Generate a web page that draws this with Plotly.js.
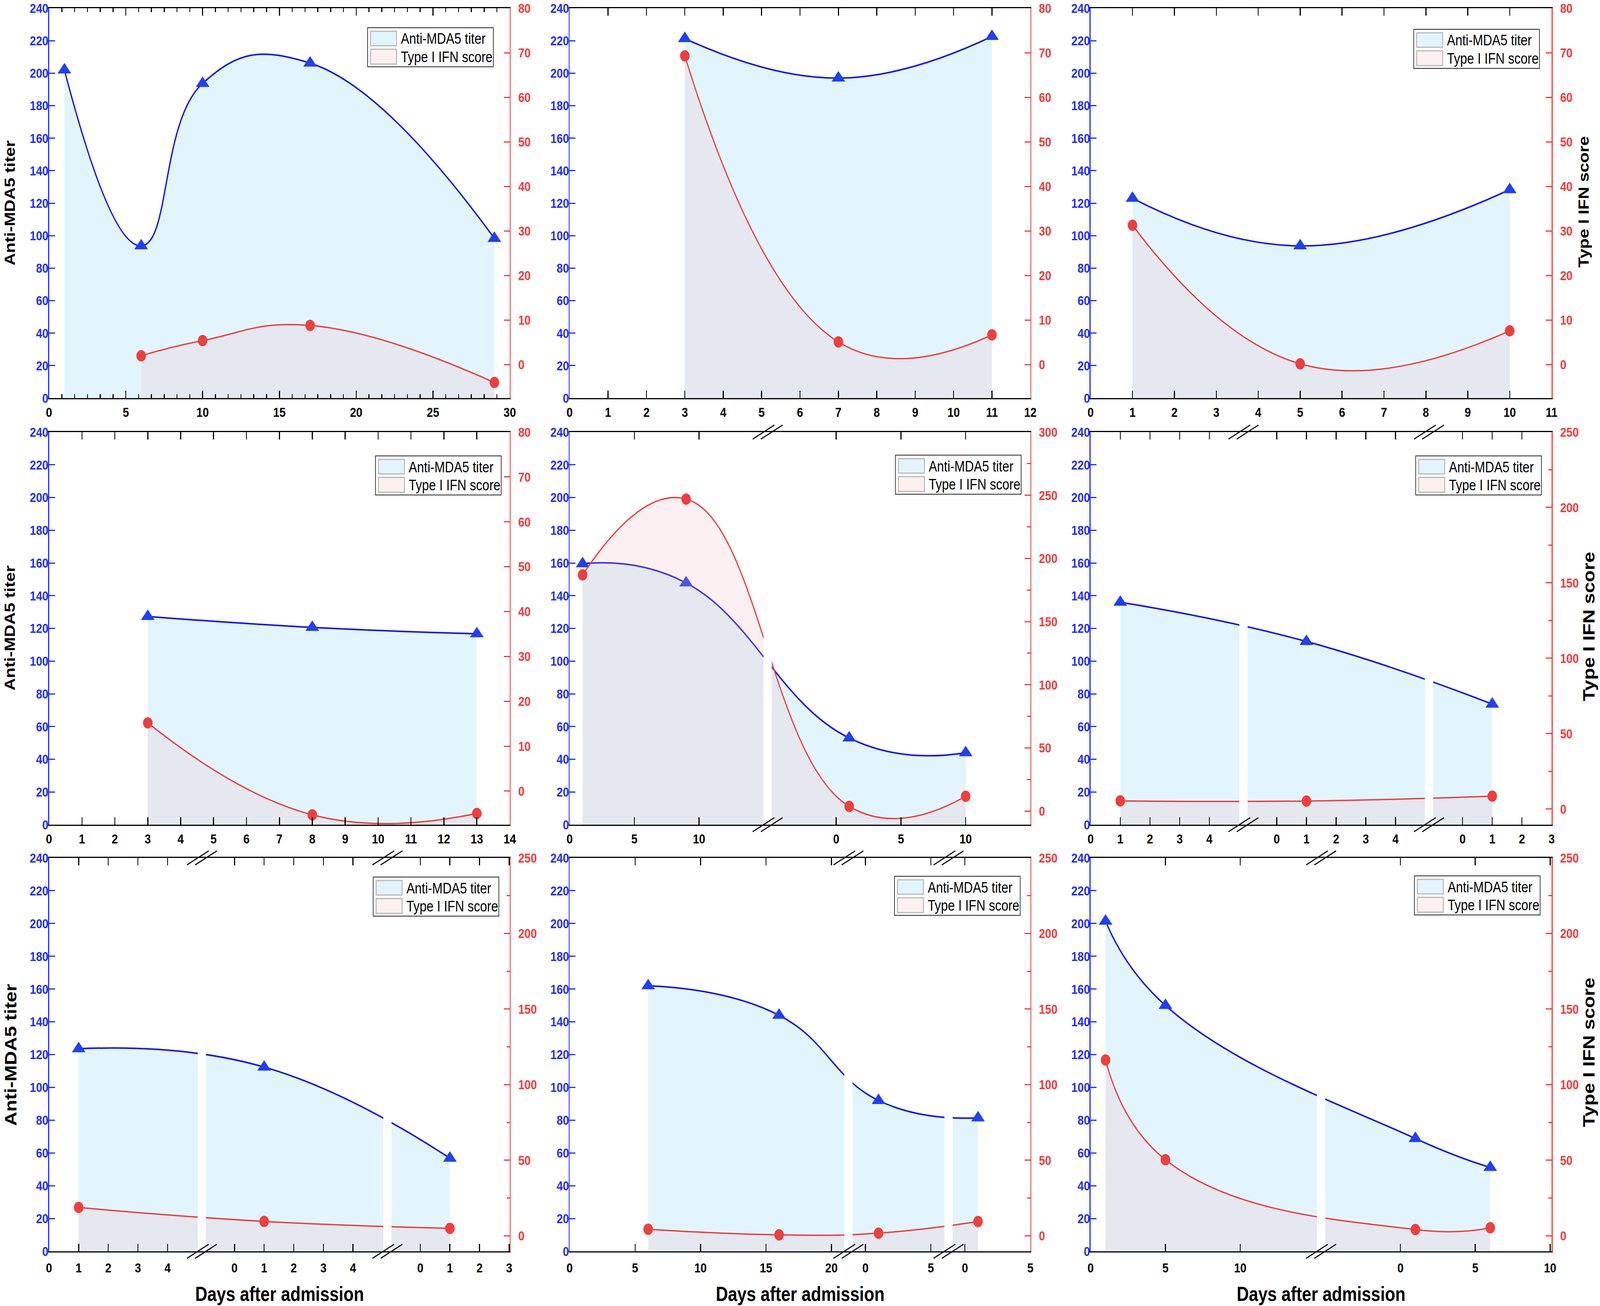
<!DOCTYPE html>
<html>
<head>
<meta charset="utf-8">
<script src="https://cdn.plot.ly/plotly-3.0.1.min.js"></script>
<style>html,body{margin:0;padding:0;background:#fff;overflow:hidden;}</style>
</head>
<body>
<div id="chart" style="width:4862px;height:3343px;"></div>
<script>
// ================= DATA =================
// Panel 1
const p1Days = [1, 6, 10, 17, 29];
const p1Titer = [202, 93.7, 193.7, 206.2, 98.3];
const p1IfnDays = [6, 10, 17, 29];
const p1Ifn = [2.0, 5.4, 8.8, -4.0];
// Panel 2
const p2Days = [3, 7, 11];
const p2Titer = [221.3, 197, 222.6];
const p2Ifn = [69.3, 5.1, 6.7];
// Panel 3
const p3Days = [1, 5, 10];
const p3Titer = [123, 93.7, 128.3];
const p3Ifn = [31.3, 0.2, 7.6];
// Panel 4
const p4Days = [3, 8, 13];
const p4Titer = [127.3, 120.6, 116.7];
const p4Ifn = [15.2, -5.3, -5.0];
// Panel 5 (broken axis: segment index per point)
const p5Days = [1, 9, 1, 10];
const p5Segment = [0, 0, 1, 1];
const p5Titer = [159.5, 147.8, 53, 44];
const p5Ifn = [187, 247, 3.7, 11.7];
const p5TickLabels = [[0, 5, 10], [0, 5, 10]];
// Panel 6
const p6Days = [1, 1, 1];
const p6Segment = [0, 1, 2];
const p6Titer = [136, 112, 73.7];
const p6Ifn = [5.4, 5.3, 8.5];
const p6TickLabels = [[0, 1, 2, 3, 4], [0, 1, 2, 3, 4], [0, 1, 2, 3]];
// Panel 7
const p7Days = [1, 1, 1];
const p7Segment = [0, 1, 2];
const p7Titer = [123.6, 112.4, 56.8];
const p7Ifn = [18.7, 9.5, 4.9];
const p7TickLabels = [[0, 1, 2, 3, 4], [0, 1, 2, 3, 4], [0, 1, 2, 3]];
// Panel 8
const p8Days = [6, 16, 1, 1];
const p8Segment = [0, 0, 1, 2];
const p8Titer = [162, 144, 92, 81.4];
const p8Ifn = [4.3, 0.6, 1.75, 9.4];
const p8TickLabels = [[0, 5, 10, 15, 20], [0, 5], [0, 5]];
// Panel 9
const p9Days = [1, 5, 1, 6];
const p9Segment = [0, 0, 1, 1];
const p9Titer = [201.4, 150, 68.8, 51.2];
const p9Ifn = [116.3, 50.3, 4.1, 5.3];
const p9TickLabels = [[0, 5, 10], [0, 5, 10]];

const legendNames = ['Anti-MDA5 titer', 'Type I IFN score'];
const leftTitle = 'Anti-MDA5 titer';
const rightTitle = 'Type I IFN score';
const bottomTitle = 'Days after admission';

// ================= STYLE / LAYOUT =================
const W = 4862, H = 3343;
const FONT = 'Liberation Sans, Arial, Helvetica, sans-serif';
const BLUE_AXIS = '#1F2EFF', BLUE_LINE = '#1616F2', BLUE_MARK = '#2040F2', BLUE_FILL = '#E3F5FC';
const RED_AXIS = '#F43A3A', RED_LINE = '#F23A3A', RED_MARK = '#EF3E3E', RED_FILL = 'rgba(245,182,196,0.2)';
const SMOOTH = 1.3;

const colPx = [[149, 1549], [1731, 3131], [3314, 4715]];
const rowPx = [[21, 1019], [1106, 2111], [2196, 3203]];
const px2x = p => p / W;
const px2y = p => 1 - p / H;

const panels = [
  {days: p1Days, titer: p1Titer, ifnDays: p1IfnDays, ifn: p1Ifn, xRange: [0, 30], xDtick: 5, xMinor: 5 / 6,
   right: [-7.5, 80], rDtick: 10, legend: [968, 50]},
  {days: p2Days, titer: p2Titer, ifn: p2Ifn, xRange: [0, 12], xDtick: 1,
   right: [-7.5, 80], rDtick: 10, legend: null},
  {days: p3Days, titer: p3Titer, ifn: p3Ifn, xRange: [0, 11], xDtick: 1,
   right: [-7.5, 80], rDtick: 10, legend: [982, 54]},
  {days: p4Days, titer: p4Titer, ifn: p4Ifn, xRange: [0, 14], xDtick: 1,
   right: [-7.5, 80], rDtick: 10, legend: [992, 61]},
  {days: p5Days, seg: p5Segment, titer: p5Titer, ifn: p5Ifn, xRange: [0, 35.6], offsets: [0, 20.6],
   tickLabels: p5TickLabels, breaks: [15.3], right: [-10.8, 300], rDtick: 50, rMinor: 25, legend: [990, 59]},
  {days: p6Days, seg: p6Segment, titer: p6Titer, ifn: p6Ifn, xRange: [0, 15.53], offsets: [0, 6.27, 12.53],
   tickLabels: p6TickLabels, breaks: [5.15, 11.4], right: [-10.4, 250], rDtick: 50, rMinor: 25, legend: [988, 61]},
  {days: p7Days, seg: p7Segment, titer: p7Titer, ifn: p7Ifn, xRange: [0, 15.55], offsets: [0, 6.26, 12.53],
   tickLabels: p7TickLabels, breaks: [5.16, 11.42], right: [-10.3, 250], rDtick: 50, rMinor: 25, legend: [985, 49]},
  {days: p8Days, seg: p8Segment, titer: p8Titer, ifn: p8Ifn, xRange: [0, 35.2], offsets: [0, 22.6, 30.2],
   tickLabels: p8TickLabels, breaks: [21.3, 28.95], right: [-10.3, 250], rDtick: 50, rMinor: 25, legend: [987, 47]},
  {days: p9Days, seg: p9Segment, titer: p9Titer, ifn: p9Ifn, xRange: [0, 30.8], offsets: [0, 20.7],
   tickLabels: p9TickLabels, breaks: [15.4], right: [-10.3, 250], rDtick: 50, rMinor: 25, legend: [984, 46]}
];

const traces = [];
const layout = {
  width: W, height: H, autosize: false,
  margin: {l: 0, r: 0, t: 0, b: 0, pad: 0},
  paper_bgcolor: '#ffffff', plot_bgcolor: '#ffffff',
  showlegend: false,
  font: {family: FONT},
  shapes: [], annotations: []
};

function tickFont(color, size) {
  return {family: FONT, size: size || 34, color: color, weight: 'bold'};
}

panels.forEach((p, k) => {
  const i = k + 1;
  const c = k % 3, r = Math.floor(k / 3);
  const xId = i === 1 ? 'x' : 'x' + i;
  const xKey = i === 1 ? 'xaxis' : 'xaxis' + i;
  const yL = 2 * i - 1, yR = 2 * i;
  const yLId = yL === 1 ? 'y' : 'y' + yL;
  const yLKey = yL === 1 ? 'yaxis' : 'yaxis' + yL;
  const yRId = 'y' + yR, yRKey = 'yaxis' + yR;

  const toX = (d, s) => (p.offsets ? d.map((v, j) => p.offsets[s[j]] + v) : d);
  const xb = toX(p.days, p.seg);
  const xr = toX(p.ifnDays || p.days, p.ifnSeg || p.seg);

  // Anti-MDA5 titer (left axis)
  traces.push({
    type: 'scatter', x: xb, y: p.titer, xaxis: xId, yaxis: yLId,
    mode: 'lines+markers', fill: 'tozeroy', fillcolor: BLUE_FILL,
    line: {shape: 'spline', smoothing: SMOOTH, color: BLUE_LINE, width: 4},
    marker: {symbol: 'triangle-up', size: 36, color: BLUE_MARK, line: {width: 0}},
    showlegend: false, hoverinfo: 'skip'
  });
  // baseline at the bottom of the right axis (for the IFN area fill)
  traces.push({
    type: 'scatter', x: [xr[0], xr[xr.length - 1]], y: [p.right[0], p.right[0]],
    xaxis: xId, yaxis: yRId, mode: 'lines',
    line: {width: 0, color: 'rgba(0,0,0,0)'}, showlegend: false, hoverinfo: 'skip'
  });
  // Type I IFN score (right axis)
  traces.push({
    type: 'scatter', x: xr, y: p.ifn, xaxis: xId, yaxis: yRId,
    mode: 'lines+markers', fill: 'tonexty', fillcolor: RED_FILL,
    line: {shape: 'spline', smoothing: SMOOTH, color: RED_LINE, width: 3.5},
    marker: {symbol: 'circle', size: 29, color: RED_MARK, line: {width: 0}},
    showlegend: false, hoverinfo: 'skip'
  });

  const xDomain = [px2x(colPx[c][0]), px2x(colPx[c][1])];
  const yDomain = [px2y(rowPx[r][1]), px2y(rowPx[r][0])];

  const xa = {
    domain: xDomain, range: p.xRange, anchor: yLId,
    showline: true, linecolor: '#000000', linewidth: 3, mirror: 'ticks',
    ticks: 'inside', ticklen: 19, tickwidth: 3, tickcolor: '#000000',
    tickfont: tickFont('#000000'), ticklabelstandoff: (r === 2 ? 10 : 4), ticklabeloverflow: 'allow',
    showgrid: false, zeroline: false, fixedrange: true
  };
  if (p.offsets) {
    const tv = [], tt = [];
    p.tickLabels.forEach((labs, s) => labs.forEach(l => { tv.push(p.offsets[s] + l); tt.push(String(l)); }));
    xa.tickmode = 'array'; xa.tickvals = tv; xa.ticktext = tt;
  } else {
    xa.tickmode = 'linear'; xa.tick0 = 0; xa.dtick = p.xDtick;
    if (p.xMinor) xa.minor = {dtick: p.xMinor, tick0: 0, ticks: 'inside', ticklen: 10, tickwidth: 3, tickcolor: '#000000', showgrid: false};
  }
  layout[xKey] = xa;

  layout[yLKey] = {
    domain: yDomain, range: [0, 240], anchor: xId, side: 'left',
    tickmode: 'linear', tick0: 0, dtick: 20,
    showline: true, linecolor: BLUE_AXIS, linewidth: 3,
    ticks: 'inside', ticklen: 18, tickwidth: 3, tickcolor: BLUE_AXIS,
    tickfont: tickFont(BLUE_AXIS), ticklabelstandoff: -8, ticklabeloverflow: 'allow',
    showgrid: false, zeroline: false, fixedrange: true
  };
  const ra = {
    overlaying: yLId, side: 'right', anchor: xId, range: p.right,
    tickmode: 'linear', tick0: 0, dtick: p.rDtick,
    showline: true, linecolor: RED_AXIS, linewidth: 3,
    ticks: 'inside', ticklen: 18, tickwidth: 3, tickcolor: RED_AXIS,
    tickfont: tickFont(RED_AXIS), ticklabelstandoff: 16, ticklabeloverflow: 'allow',
    showgrid: false, zeroline: false, fixedrange: true
  };
  if (p.rMinor) ra.minor = {dtick: p.rMinor, tick0: 0, ticks: 'inside', ticklen: 10, tickwidth: 3, tickcolor: RED_AXIS, showgrid: false};
  layout[yRKey] = ra;

  // axis breaks: white gap + double slashes on top & bottom axes
  (p.breaks || []).forEach(b => {
    layout.shapes.push({
      type: 'rect', layer: 'above', xref: xId, xsizemode: 'pixel', xanchor: b, x0: -12.5, x1: 12.5,
      yref: 'paper', y0: px2y(rowPx[r][1] - 2.5), y1: px2y(rowPx[r][0] + 2.5),
      fillcolor: '#ffffff', line: {width: 0}
    });
    [rowPx[r][0], rowPx[r][1]].forEach(yp => {
      [-12.5, 12.5].forEach(dx => {
        layout.shapes.push({
          type: 'line', layer: 'above', xref: xId, xsizemode: 'pixel', xanchor: b, x0: dx - 33, x1: dx + 33,
          yref: 'paper', ysizemode: 'pixel', yanchor: px2y(yp), y0: -18, y1: 18,
          line: {color: '#000000', width: 3}
        });
      });
    });
  });

  // legend box (drawn manually to match the reference swatches)
  if (p.legend) {
    const X0 = colPx[c][0] + p.legend[0], Y0 = rowPx[r][0] + p.legend[1];
    layout.shapes.push({type: 'rect', layer: 'above', xref: 'paper', yref: 'paper',
      x0: px2x(X0), x1: px2x(X0 + 382), y0: px2y(Y0 + 100), y1: px2y(Y0),
      fillcolor: '#ffffff', line: {color: '#222222', width: 2}});
    const sw = [[9, 46, BLUE_FILL], [55, 93, '#FDF0F0']];
    sw.forEach((s, j) => {
      layout.shapes.push({type: 'rect', layer: 'above', xref: 'paper', yref: 'paper',
        x0: px2x(X0 + 9), x1: px2x(X0 + 88), y0: px2y(Y0 + s[1]), y1: px2y(Y0 + s[0]),
        fillcolor: s[2], line: {color: '#B8B8B8', width: 3}});
      layout.annotations.push({xref: 'paper', yref: 'paper', x: px2x(X0 + 99), y: px2y(Y0 + (s[0] + s[1]) / 2 + 1),
        xanchor: 'left', yanchor: 'middle', showarrow: false, text: legendNames[j],
        font: {family: FONT, size: 38, color: '#000000'}});
    });
  }
});

// axis titles (left edge of the box kept inside the page)
[[520, 44], [1608, 44], [2700, 50]].forEach(t => {
  layout.annotations.push({xref: 'paper', yref: 'paper', x: px2x(3), y: px2y(t[0]), textangle: -90,
    xanchor: 'left', yanchor: 'middle', showarrow: false, text: '<b>' + leftTitle + '</b>',
    font: {family: FONT, size: t[1], color: '#000000'}});
});
[[517, 44, 4812], [1604, 50, 4828], [2694, 50, 4828]].forEach(t => {
  layout.annotations.push({xref: 'paper', yref: 'paper', x: px2x(t[2]), y: px2y(t[0]), textangle: -90,
    xanchor: 'center', yanchor: 'middle', showarrow: false, text: '<b>' + rightTitle + '</b>',
    font: {family: FONT, size: t[1], color: '#000000'}});
});
[849, 2431, 4014].forEach(xc => {
  layout.annotations.push({xref: 'paper', yref: 'paper', x: px2x(xc), y: px2y(3312),
    xanchor: 'center', yanchor: 'middle', showarrow: false, text: '<b>' + bottomTitle + '</b>',
    font: {family: FONT, size: 51, color: '#000000'}});
});

const gd = document.getElementById('chart');
Plotly.newPlot(gd, traces, layout, {displayModeBar: false, staticPlot: true}).then(() => {
  // fit the fixed 4862x3343 figure to the actual viewport if it differs
  const sx = window.innerWidth / W, sy = window.innerHeight / H;
  if (sx > 0 && sy > 0 && (Math.abs(sx - 1) > 0.002 || Math.abs(sy - 1) > 0.002)) {
    gd.style.transformOrigin = '0 0';
    gd.style.transform = 'scale(' + sx + ',' + sy + ')';
  }
});
</script>
</body>
</html>
